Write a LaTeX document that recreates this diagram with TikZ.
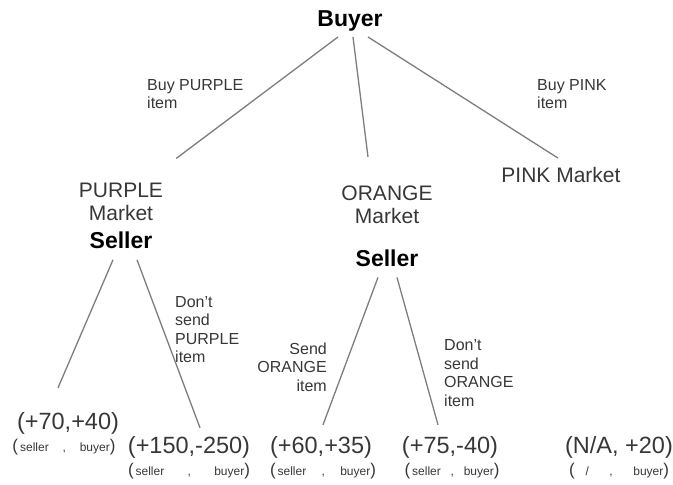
\documentclass[tikz,border=0pt]{standalone}
\usepackage{fontspec}
\setmainfont{Liberation Sans}
\usetikzlibrary{positioning}
\definecolor{txtgray}{RGB}{55,55,55}
\definecolor{edgegray}{RGB}{125,125,125}
\newcommand{\whogets}[2]{\makebox[#1][s]{{\fontsize{17}{17}\selectfont(}\,#2\hfil,\hfil buyer{\fontsize{17}{17}\selectfont)}}}

\begin{document}
\begin{tikzpicture}[x=1pt, y=1pt, inner sep=0pt,
    every node/.style={text=txtgray},
    who/.style={font=\fontsize{23}{25}\selectfont\bfseries, text=black},
    mkt/.style={font=\fontsize{21}{23}\selectfont, align=center},
    note/.style={font=\fontsize{16}{18.5}\selectfont},
    payoff/.style={font=\fontsize{23.5}{25}\selectfont},
    whom/.style={font=\fontsize{12}{14}\selectfont},
    branch/.style={draw=edgegray, line width=1.3pt}]
        \useasboundingbox (0,0) rectangle (673,485);

        \node[who, anchor=base] (buyer) at (350,458) {Buyer};
        \node[note, anchor=west, align=left] (buypurple) at (147,391) {Buy PURPLE\\item};
        \node[note, anchor=west, align=left] (buypink) at (537,391) {Buy PINK\\item};

        % Markets
        \node[mkt] (pmkt) at (121,283.5) {PURPLE\\Market};
        \node[who, below=11pt of pmkt] (pseller) {Seller};
        \node[mkt] (omkt) at (387,280) {ORANGE\\Market};
        \node[who, below=26pt of omkt] (oseller) {Seller};
        \node[mkt] (pinkmkt) at (561,310) {PINK Market};

        \node[note, anchor=west, align=left] (dontpurple) at (175,155.5) {Don't\\send\\PURPLE\\item};
        \node[note, anchor=east, align=right] (sendorange) at (327,118) {Send\\ORANGE\\item};
        \node[note, anchor=west, align=left] (dontorange) at (444,112) {Don't\\send\\ORANGE\\item};

        % Payoffs
        \node[payoff] (pp1) at (68,62) {(+70,+40)};
        \node[payoff] (pp2) at (189,38) {(+150,-250)};
        \node[payoff] (op1) at (321,38) {(+60,+35)};
        \node[payoff] (op2) at (450,38) {(+75,-40)};
        \node[payoff] (pinkp) at (619,38) {(N/A, +20)};
        \node[whom, below=5pt of pp1, xshift=-4pt] (pp1who) {\whogets{103pt}{seller}};
        \node[whom, below=5pt of pp2] (pp2who) {\whogets{122pt}{seller}};
        \node[whom, below=5pt of op1, xshift=2pt] (op1who) {\whogets{106pt}{seller}};
        \node[whom, below=5pt of op2, xshift=2pt] (op2who) {\whogets{95pt}{seller}};
        \node[whom, below=5pt of pinkp] (pinkpwho) {\whogets{100pt}{\hspace{9pt}/}};

        \draw[branch] ([xshift=-12pt,yshift=-5pt]buyer.south) -- ([xshift=13pt,yshift=24pt]pmkt.north east);
        \draw[branch] ([xshift=3pt,yshift=-5pt]buyer.south) -- ([xshift=-19pt,yshift=29pt]omkt.north);
        \draw[branch] ([xshift=18pt,yshift=-5pt]buyer.south) -- ([xshift=-3pt,yshift=9pt]pinkmkt.north);
        \draw[branch] ([xshift=-8pt,yshift=-11pt]pseller.south) -- ([xshift=-10pt,yshift=24pt]pp1.north);
        \draw[branch] ([xshift=16pt,yshift=-11pt]pseller.south) -- ([xshift=11pt,yshift=8pt]pp2.north);
        \draw[branch] ([xshift=-9pt,yshift=-10pt]oseller.south) -- ([xshift=2pt,yshift=11pt]op1.north);
        \draw[branch] ([xshift=10pt,yshift=-10pt]oseller.south) -- ([xshift=-12pt,yshift=11pt]op2.north);
    \end{tikzpicture}
\end{document}
